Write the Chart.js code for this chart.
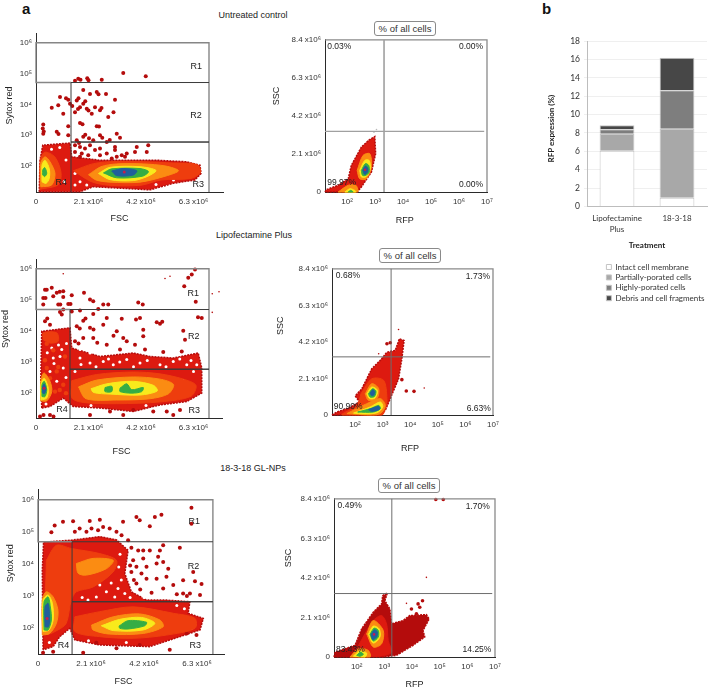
<!DOCTYPE html>
<html><head><meta charset="utf-8">
<style>
html,body{margin:0;padding:0;background:#fff;width:709px;height:689px;overflow:hidden;font-family:"Liberation Sans",sans-serif;color:#222}
canvas{position:absolute}
.t{position:absolute;white-space:nowrap;transform:translate(-50%,-50%);font-size:9px;line-height:1}
.h{position:absolute;font-weight:bold;font-size:15px;line-height:1;color:#111}
.box{position:absolute;box-sizing:border-box;width:62px;height:15px;border:1px solid #8a8a8a;border-radius:3px;background:#fff;font-size:9.5px;line-height:13px;text-align:center;color:#333}
</style>
<script src="https://cdn.jsdelivr.net/npm/chart.js@4"></script>
</head><body>
<div class="h" style="left:22px;top:1px">a</div>
<div class="h" style="left:542px;top:1px">b</div>
<div class="t" style="left:253px;top:15px">Untreated control</div>
<div class="t" style="left:254px;top:235px">Lipofectamine Plus</div>
<div class="t" style="left:253px;top:468px">18-3-18 GL-NPs</div>
<div class="box" style="left:374px;top:21px">% of all cells</div>
<div class="box" style="left:379px;top:248px">% of all cells</div>
<div class="box" style="left:378px;top:478px">% of all cells</div>
<script>
// ---------- tick values and labels ----------
const fscTicks=[0,2.1,4.2,6.3];
const fscTickLabels=['0','2.1 x10⁶','4.2 x10⁶','6.3 x10⁶'];
const sytoxTicks=[2,3,4,5,6];
const sytoxTickLabels=['10²','10³','10⁴','10⁵','10⁶'];
const rfpTicks=[2,3,4,5,6,7];
const rfpTickLabels=['10²','10³','10⁴','10⁵','10⁶','10⁷'];
const sscTicks=[0,2.1,4.2,6.3,8.4];
const sscTickLabels=['0','2.1 x10⁶','4.2 x10⁶','6.3 x10⁶','8.4 x10⁶'];

// ---------- panel b ----------
const treatments=[['Lipofectamine','Plus'],'18-3-18'];
const intact=[6.05,0.95];
const partial=[1.85,7.5];
const highly=[0.5,4.2];
const debris=[0.45,3.55];

// ---------- untreated: FSC / Sytox red (FSC in 1e6, Sytox as log10) ----------
const a1Red=[[.13,1.17],[.16,2.19],[.27,2.68],[1.36,2.75],[1.43,2.3],[2.56,2.19],[3.89,2.19],[4.83,2.19],[6.03,2.14],[6.56,2.03],[6.6,1.76],[6.36,1.55],[5.49,1.44],[4.56,1.23],[2.29,1.33],[1.76,1.17],[.13,1.17]];
const a1Gaps=[[1.56,1.76],[1.76,1.49],[2.03,1.39],[1.56,1.39],[1.89,1.72],[1.13,1.5],[.95,2.6],[.62,2.55],[1.2,2.2],[4.8,1.4],[5.5,1.55]];
const a1Bright=[[1.5,1.85],[2.3,2.08],[3.2,2.15],[4.3,2.14],[5.5,2.1],[6.45,2.05],[6.58,1.8],[6.2,1.6],[5,1.55],[4.2,1.38],[2.9,1.38],[2.2,1.5],[1.5,1.85]];
const a1BrightL=[[.17,1.25],[.17,2.2],[.36,2.45],[.75,2.3],[1,1.8],[.9,1.4],[.17,1.25]];
const a1OrangeL=[[.19,1.33],[.19,2.09],[.36,2.3],[.56,2.14],[.76,1.76],[.63,1.39],[.19,1.33]];
const a1YellowL=[[.24,1.49],[.24,2.03],[.36,2.19],[.53,1.92],[.53,1.6],[.4,1.44],[.24,1.49]];
const a1GreenL=[[.27,1.71],[.27,1.87],[.35,1.95],[.43,1.77],[.35,1.66],[.27,1.71]];
const a1Orange=[[2.1,1.72],[2.6,1.98],[3.23,2.07],[4.29,2.07],[5.2,2],[5.7,1.85],[5.2,1.68],[4.16,1.48],[2.96,1.48],[2.4,1.55],[2.1,1.72]];
const a1Yellow=[[2.5,1.76],[2.96,1.96],[4.16,1.98],[4.8,1.86],[4.5,1.68],[3.89,1.53],[2.96,1.56],[2.5,1.76]];
const a1Green=[[2.7,1.78],[3.03,1.91],[4.16,1.92],[4.5,1.82],[4.25,1.67],[3.23,1.62],[2.7,1.78]];
const a1Blue=[[3.03,1.84],[3.49,1.92],[4.03,1.85],[3.89,1.71],[3.23,1.69],[3.03,1.84]];
const a1Peak=[[3.53,1.81]];
const a1Specks=[[1.69,4.83],[1.78,4.8],[2.05,4.85],[2.1,4.78],[1.56,4.77],[3.49,5.02],[4.39,4.91],[2.63,4.8],[1.89,4.47],[2.16,4.34],[2.43,4.4],[2.5,4.33],[2.8,4.34],[1.29,4.15],[1.2,4.2],[.96,4.24],[1.36,4.02],[1.63,4.13],[1.7,4.2],[1.76,3.91],[1.68,3.85],[1.56,3.75],[1.89,4.02],[1.97,4.1],[2.03,3.86],[2.1,3.8],[.63,3.89],[.89,3.97],[1.09,3.7],[1.45,3.95],[2.36,3.91],[2.56,3.81],[2.62,3.88],[2.23,3.7],[3.16,4.15],[3.1,3.75],[2.89,3.59],[.29,3.35],[.27,3.22],[.31,3.12],[1.76,3.4],[1.86,3.36],[2.43,3.29],[2.52,3.28],[1.29,3.29],[.83,3.11],[.9,3.04],[.29,3.05],[1.29,3],[1.89,2.95],[1.97,3.02],[2.56,3],[2.65,2.92],[2.29,2.84],[2.12,2.9],[1.63,2.84],[1.72,2.75],[3.23,3.05],[3.36,2.92],[2.83,2.78],[2.95,2.85],[4.49,2.68],[3.96,2.46],[3.63,2.41],[4.43,2.46],[4.03,2.62],[3.16,2.62],[1.56,2.68],[1.76,2.62],[1.96,2.57],[1.56,2.46],[1.83,2.41],[2.16,2.68],[2.36,2.52],[2.56,2.57],[2.83,2.41],[3.16,2.52],[3.23,2.3],[3.43,2.35],[3.56,2.3],[1.76,2.3],[2.09,2.35],[2.56,2.35],[3.03,2.25]];
const a1Notes=[['R1',6.41,5.23],['R2',6.4,3.63],['R3',6.49,1.41],['R4',1.01,1.46]];

// ---------- lipofectamine: FSC / Sytox red ----------
const a2Red=[[.23,1.52],[.19,2.43],[.23,3.99],[1.36,4.1],[1.43,3.45],[2.56,3.18],[3.89,3.29],[4.56,3.18],[5.49,3.13],[6.49,3.29],[6.63,2.81],[6.63,2],[6.03,1.73],[4.96,1.62],[3.89,1.41],[2.56,1.52],[1.49,1.57],[1.09,1.84],[.56,1.57],[.23,1.52]];
const a2Gaps=[[.69,3.13],[1.09,2.81],[.96,3.18],[.56,2.7],[1.76,3.13],[2.16,2.97],[2.69,3.02],[3.09,2.91],[1.56,2.7],[4.16,2.97],[4.96,2.91],[5.49,3.02],[6.03,2.91],[.63,3.45],[1.03,3.4],[.83,2.38],[6.43,2.91],[3.63,3.08],[1.76,3.4],[2.16,3.29],[.9,3.55],[1.22,3.6],[.45,3.3],[.72,2.95],[1.2,2.5],[1.8,2.92],[2.4,2.85],[2.9,3.1],[3.35,3],[3.9,2.85],[4.45,3.05],[5.2,2.85],[5.75,3.1],[6.2,3.05],[6.3,2.7],[5.9,2.4],[6.25,2.15],[1.95,3.5],[.4,1.65],[2.2,1.6],[4.4,1.6]];
const a2Flecks=[[.43,3.59],[.69,3.38],[.36,3.06],[.89,2.84],[.56,2.48],[1.09,2.27],[.83,2.7],[1.16,3.18],[.43,2.81],[.76,2.05],[.95,2.1],[1.2,2.0]];
const a2Bright=[[1.43,2.4],[2.43,2.6],[3.89,2.68],[4.96,2.62],[5.9,2.45],[6.4,2.25],[6.2,1.9],[5,1.72],[3.23,1.66],[1.89,1.7],[1.43,1.85],[1.43,2.4]];
const a2Orange=[[1.7,2.2],[2.43,2.42],[3.89,2.52],[4.96,2.45],[5.5,2.28],[5.3,1.98],[4.56,1.82],[3.23,1.78],[2,1.82],[1.7,2.2]];
const a2OrangeL=[[.19,1.75],[.19,2.38],[.32,2.65],[.56,2.38],[.63,2.05],[.43,1.75],[.19,1.75]];
const a2OrangeU=[[.29,3.72],[.29,3.94],[.83,3.94],[.89,3.67],[.56,3.61],[.29,3.72]];
const a2Yellow=[[2.2,2.14],[2.83,2.3],[3.89,2.38],[4.7,2.25],[4.85,2.07],[4.16,1.94],[2.96,1.97],[2.3,2.02],[2.2,2.14]];
const a2YellowL=[[.2,1.78],[.2,2.29],[.33,2.48],[.49,2.16],[.43,1.84],[.2,1.78]];
const a2Green1=[[2.76,2.18],[3.03,2.22],[3.03,2.05],[2.76,2.05],[2.76,2.18]];
const a2Green2=[[3.36,2.16],[3.63,2.3],[3.83,2.11],[4.29,2.18],[4.23,2.05],[3.83,2],[3.36,2.05],[3.36,2.16]];
const a2GreenL=[[.24,1.89],[.24,2.27],[.33,2.38],[.43,2.11],[.36,1.89],[.24,1.89]];
const a2BlueL=[[.27,2],[.27,2.22],[.33,2.29],[.4,2.11],[.33,1.98],[.27,2]];
const a2Peak=[[.32,2.16]];
const a2Specks=[[.63,5.39],[.36,5.33],[.43,5.33],[.83,5.23],[1.09,5.28],[.95,5.26],[.29,5.06],[.38,5.06],[.69,5.12],[1.09,5.09],[1.43,5.15],[1.92,5.23],[.29,4.85],[.89,4.85],[.97,4.85],[1.29,4.87],[1.38,4.87],[2.16,5.01],[2.69,4.85],[2.29,4.96],[2.89,4.85],[4.09,4.92],[4.27,4.85],[6.39,4.94],[6.09,5.71],[5.93,5.44],[6.23,5.82],[6.36,5.98],[.96,4.61],[1.09,4.69],[1.03,4.53],[1.76,4.66],[1.43,4.63],[1.89,4.33],[1.98,4.4],[2.49,4.71],[2.29,4.55],[2.83,4.42],[3.43,4.39],[4,4.37],[4.16,4.42],[4.83,4.28],[4.96,4.23],[5.05,4.3],[6.48,4.44],[6.63,4.42],[.36,4.31],[.45,4.4],[.56,4.2],[1.63,4.15],[1.75,4.08],[2.16,4.1],[2.3,4.05],[3.23,3.99],[3.1,3.85],[2.69,4.2],[4.29,4.04],[5.96,3.72],[5.89,4.01],[4.29,3.83],[3.63,3.67],[3.49,3.77],[2.83,3.56],[2.29,3.77],[2.45,3.62],[1.89,3.77],[1.56,3.67],[1.7,3.6],[3.36,3.4],[3.96,3.56],[4.36,3.4],[5.09,3.32],[5.83,3.34],[.16,1.25],[.3,1.3],[.56,1.3],[.7,1.25],[3.89,1.46],[4.69,1.41],[5.23,1.41],[5.49,1.3],[2.16,1.3],[2.96,1.41],[3.49,1.3],[5.76,1.46]];
const a2Faint=[[1.09,5.84],[5.36,5.76],[5.16,5.69],[7.05,5.2],[7.32,5.26],[7.05,4.6]];
const a2Notes=[['R1',6.29,5.19],['R2',6.31,3.81],['R3',6.33,1.44],['R4',1.04,1.48]];

// ---------- 18-3-18: FSC / Sytox red ----------
const a3Red=[[.2,1.32],[.17,3.8],[.22,4.68],[1.32,4.74],[2.45,4.85],[3.11,4.75],[3.57,4.42],[3.44,3.7],[3.7,3.13],[4.3,2.87],[5.09,2.87],[6.02,2.82],[5.95,2.46],[6.55,2.3],[6.42,1.94],[5.62,1.73],[4.43,1.42],[2.45,1.47],[1.46,1.63],[1.26,1.99],[.86,1.73],[.6,1.42],[.2,1.32]];
const a3Gaps=[[2.31,2.97],[2.71,3.13],[3.17,3.23],[3.04,2.97],[2.45,3.34],[3.44,3.08],[1.98,2.87],[3.3,3.5],[3.25,4.3],[3.2,3.9],[1.75,2.95],[2.9,3.4],[3.65,2.95],[4.2,2.95],[5.5,2.7],[5.8,2.6],[6.1,2.0],[3.5,1.55],[2,1.6],[.45,1.55],[1.2,1.7]];
const a3BrightU=[[.33,4.11],[.73,4.58],[1.32,4.48],[2.45,4.32],[3.11,4.11],[2.98,3.75],[2.18,3.28],[1.52,3.13],[1.32,2.87],[1.12,2.15],[.79,1.94],[.33,1.83],[.33,4.11]];
const a3BrightB=[[1.46,2.35],[2.45,2.51],[3.77,2.66],[5.36,2.46],[6.22,2.3],[6.22,1.99],[5.09,1.78],[3.77,1.68],[2.45,1.73],[1.46,1.89],[1.46,2.35]];
const a3OrangeL=[[.17,1.78],[.17,2.87],[.33,3.13],[.6,2.97],[.79,2.56],[.73,2.15],[.46,1.83],[.17,1.78]];
const a3OrangeU=[[1.52,4.01],[2.18,4.17],[2.98,4.11],[2.71,3.85],[1.92,3.65],[1.59,3.71],[1.52,4.01]];
const a3Orange=[[2.12,2.09],[2.98,2.35],[4.03,2.44],[4.83,2.25],[4.96,2.04],[4.17,1.83],[2.84,1.81],[2.18,1.94],[2.12,2.09]];
const a3Yellow=[[2.51,2.07],[3.24,2.27],[4.1,2.33],[4.63,2.15],[4.17,1.94],[2.98,1.92],[2.51,2.07]];
const a3Green=[[3.21,2.06],[3.57,2.23],[4.3,2.18],[4.23,2.07],[3.57,1.97],[3.24,1.99],[3.21,2.06]];
const a3YellowL=[[.2,1.89],[.2,2.87],[.4,3.03],[.57,2.77],[.6,2.25],[.44,1.94],[.2,1.89]];
const a3GreenL=[[.24,1.94],[.24,2.82],[.4,2.97],[.49,2.66],[.53,2.25],[.4,1.94],[.24,1.94]];
const a3BlueL=[[.28,2.04],[.28,2.66],[.4,2.77],[.46,2.35],[.42,2.04],[.28,2.04]];
const a3Peak=[[.36,2.3]];
const a3Specks=[[6.08,5.75],[.53,4.99],[.66,5.2],[.99,5.31],[1.39,5.33],[2.05,5.34],[2.45,5.38],[3.37,5.31],[4.03,5.36],[3.9,5.46],[4.63,5.46],[4.89,5.53],[4.43,5.17],[6.08,5.25],[3.97,4.42],[4.17,4.42],[4.43,4.42],[4.96,4.58],[5.62,4.5],[4.83,4.42],[4.76,4.22],[4.17,4.17],[3.9,3.91],[4.3,3.91],[4.7,4.01],[5.16,3.85],[4.96,4.06],[3.77,4.11],[3.7,3.75],[4.1,3.7],[4.3,3.54],[4.7,3.54],[5.09,3.6],[3.9,3.39],[6.15,3.75],[6.48,3.37],[6.22,3.46],[5.75,3.49],[5.36,3.34],[4.96,3.23],[6.02,3.08],[6.42,3.03],[5.75,3.08],[.2,1.23],[.6,1.26],[1.79,1.23],[3.11,1.37],[4.03,1.47],[5.22,1.32],[2.31,1.54],[5.89,1.83],[6.28,1.78],[1.46,5],[1.65,5.1],[1.92,5],[2.12,5.1],[2.38,5.05],[2.58,5.15],[2.84,5.1],[3.11,5],[3.31,4.89],[3.57,4.74],[3.7,4.5],[3.65,3.95],[3.8,3.5],[4.05,3.2],[4.5,3.1],[5.5,3.05],[5.9,3.0]];
const a3Notes=[['R1',6.19,5.32],['R2',6.16,3.91],['R3',6.23,1.46],['R4',1.01,1.44]];

// ---------- untreated: RFP / SSC (RFP as log10, SSC in 1e6) ----------
const s1Red=[[1.21,0],[1.26,.13],[1.68,.37],[2.04,.73],[2.15,1.47],[2.51,2.48],[2.79,2.88],[2.99,3.06],[3.02,2.11],[2.87,1.1],[2.51,.28],[2.36,0],[1.21,0]];
const s1Orange=[[2.36,1.19],[2.57,2.02],[2.81,2.11],[2.87,1.38],[2.69,.73],[2.45,.73],[2.36,1.19]];
const s1Yellow=[[2.45,1.19],[2.63,1.74],[2.79,1.74],[2.83,1.28],[2.69,.86],[2.51,.83],[2.45,1.19]];
const s1Green=[[2.51,1.19],[2.65,1.56],[2.77,1.47],[2.79,1.1],[2.67,.92],[2.55,.92],[2.51,1.19]];
const s1Blue=[[2.56,1.19],[2.65,1.43],[2.74,1.32],[2.73,1.1],[2.63,.97],[2.56,1.19]];
const s1Peak=[[2.64,1.23]];
const s1OrangeL=[[1.68,0],[2.04,.37],[2.31,.37],[2.39,.09],[2.36,0],[1.68,0]];
const s1YellowL=[[1.92,0],[2.1,.18],[2.27,.09],[2.31,0],[1.92,0]];
const s1GreenL=[[2.04,0],[2.13,.09],[2.21,0],[2.04,0]];
const s1Faint=[[3.05,3.45],[2.96,3.3]];
const s1Notes=[['0.03%',1.29,8.04,'left'],['0.00%',6.86,8.04,'right'],['99.97%',1.29,.51,'left'],['0.00%',6.86,.4,'right']];

// ---------- lipofectamine: RFP / SSC ----------
const s2Red=[[1.17,0],[1.35,.17],[1.77,.4],[2.17,.75],[2.01,1.09],[2.25,1.51],[2.61,2.66],[2.92,3.14],[3.16,3.61],[3.46,3.71],[3.61,4.38],[3.78,4.28],[3.7,3.23],[3.58,2.08],[3.28,.94],[3.1,.27],[2.92,0],[1.17,0]];
const s2Bright=[[2.22,1.22],[2.61,2.08],[3.04,1.99],[3.16,.94],[3.1,.36],[2.98,0],[1.53,0],[2.07,.55],[2.22,1.22]];
const s2OrangeT=[[2.37,1.22],[2.61,1.8],[2.86,1.51],[2.8,.94],[2.49,.84],[2.37,1.22]];
const s2OrangeB=[[1.71,.08],[2.43,.65],[2.92,.94],[3.1,.55],[2.92,.08],[2.55,0],[1.71,.08]];
const s2YellowT=[[2.43,1.22],[2.61,1.61],[2.82,1.41],[2.73,.98],[2.53,.94],[2.43,1.22]];
const s2GreenT=[[2.49,1.22],[2.64,1.51],[2.76,1.38],[2.71,1.07],[2.55,1.03],[2.49,1.22]];
const s2BlueT=[[2.55,1.26],[2.65,1.45],[2.72,1.32],[2.67,1.13],[2.59,1.13],[2.55,1.26]];
const s2YellowB=[[1.95,.11],[2.55,.46],[2.92,.75],[3.01,.46],[2.8,.13],[2.31,.06],[1.95,.11]];
const s2GreenB=[[2.1,.17],[2.55,.36],[2.86,.55],[2.92,.36],[2.67,.17],[2.1,.17]];
const s2BlueB=[[2.49,.31],[2.86,.5],[2.89,.33],[2.61,.21],[2.49,.31]];
const s2Specks=[[3.16,4.09],[3.28,4.15],[3.7,2.03],[3.86,1.38],[4.14,1.36]];
const s2Faint=[[3.58,4.91],[4.51,1.55],[2.86,3.52]];
const s2Notes=[['0.68%',1.31,8.01,'left'],['1.73%',6.89,7.95,'right'],['90.90%',1.23,.46,'left'],['6.63%',6.92,.38,'right']];

// ---------- 18-3-18: RFP / SSC ----------
const s3Red=[[1.18,0],[1.22,.26],[1.94,.62],[2.18,1.5],[2.6,2.38],[2.9,2.82],[2.94,3.26],[3.11,3.4],[3.02,2.99],[3.2,2.55],[3.26,1.76],[3.68,1.94],[3.92,2.2],[4.52,2.25],[4.62,2.02],[4.4,1.41],[4.46,1.06],[4.04,.62],[3.44,.09],[2.96,0],[1.18,0]];
const s3Bright=[[1.94,.26],[2.3,1.23],[2.6,1.94],[2.9,2.2],[3.08,1.76],[3.14,.88],[3.26,.26],[2.9,.05],[2.3,.05],[1.94,.26]];
const s3Orange=[[2.36,1.23],[2.6,1.94],[2.96,1.41],[2.9,.7],[2.6,.53],[2.36,1.23]];
const s3Yellow=[[2.42,1.2],[2.6,1.64],[2.81,1.5],[2.84,1.06],[2.6,.74],[2.42,1.2]];
const s3Green=[[2.48,1.2],[2.63,1.53],[2.78,1.41],[2.78,1.06],[2.6,.85],[2.48,1.2]];
const s3Blue=[[2.52,1.2],[2.64,1.44],[2.75,1.32],[2.72,1.06],[2.58,.93],[2.52,1.2]];
const s3Peak=[[2.63,1.2]];
const s3OrangeL=[[1.76,0],[2.06,.44],[2.42,.35],[2.48,0],[1.76,0]];
const s3YellowL=[[1.88,.04],[2.1,.32],[2.36,.21],[2.3,0],[1.88,.04]];
const s3GreenL=[[2,.09],[2.14,.26],[2.24,.14],[2.12,.04],[2,.09]];
const s3Specks=[[4.22,2.82],[4.38,2.99],[3.98,2.55],[4.28,2.64],[4.16,2.29],[4.86,8.36],[5.13,8.36]];
const s3Faint=[[4.52,4.23],[3.8,2.85]];
const s3Notes=[['0.49%',1.31,8.01,'left'],['1.70%',6.81,7.98,'right'],['83.43%',1.25,.39,'left'],['14.25%',6.87,.39,'right']];

// ---------- gates (FSC 1e6 / log10 Sytox) and quadrants ----------
const a1Gate={end:6.92,r4:1.4,r1:4.71,r2:2.78,base:1.16,top:6};
const a2Gate={end:6.92,r4:1.36,r1:4.69,r2:2.77,base:1.2,top:6};
const a3Gate={end:6.93,r4:1.35,r1:4.69,r2:2.82,base:1.19,top:6};
const s1Quad={v:3.32,h:3.35};
const s2Quad={v:3.31,h:3.34};
const s3Quad={v:3.27,h:3.37};

// ---------- drawing ----------
const C={deep:'#b40c0c',red:'#dd1a10',bright:'#ee3d0e',orange:'#fb8c12',yellow:'#f8ea1c',green:'#35ad45',blue:'#1f5f9c',peak:'#c21e4e'};
Chart.defaults.font.family='"Liberation Sans", sans-serif';
Chart.defaults.animation=false;
const xy=p=>p.map(([x,y])=>({x,y}));
const notePlugin={id:'notes',afterDatasetsDraw(c){
  const n=c.options.plugins.notes; if(!n||!n.items)return;
  const g=c.ctx; g.save(); g.font=n.size+'px "Liberation Sans"'; g.fillStyle='#222'; g.textBaseline='middle';
  n.items.forEach(([t,x,y,al])=>{g.textAlign=al||'center'; g.fillText(t,c.scales.x.getPixelForValue(x),c.scales.y.getPixelForValue(y));});
  g.restore();
}};
function blob(p,col,tension){return {data:xy(p),showLine:true,fill:'shape',backgroundColor:col,borderColor:col,borderWidth:1,pointRadius:0,tension:tension===undefined?0.3:tension};}
function edge(p,col){return {data:xy(p),showLine:true,fill:'shape',backgroundColor:col||C.red,borderColor:C.deep,borderWidth:1.5,borderDash:[2,1],pointRadius:0,tension:0};}
function dots(p,col,r){return {data:xy(p),showLine:false,backgroundColor:col,borderColor:col,borderWidth:0,pointRadius:r,pointHoverRadius:r};}
function path(p,col,w){return {data:xy(p),showLine:true,fill:false,borderColor:col,borderWidth:w,pointRadius:0,tension:0};}
function gateLines(g){return [
  path([[g.r4,g.r1],[0,g.r1],[0,g.top],[g.end,g.top],[g.end,g.base]],'#868686',1.4),
  path([[g.r4,g.base],[g.r4,g.r2],[g.end,g.r2],[g.r4,g.r2],[g.r4,g.r1],[g.end,g.r1]],'#3a3a3a',1)];}
function quadLines(q,xmin,thick){return [
  path([[xmin,8.4],[7,8.4],[7,0]],'#8a8a8a',1.3),
  path([[q.v,0],[q.v,8.4]],thick?'#a0a0a0':'#6e6e6e',thick?1.6:1),
  path([[xmin,q.h],[6.9,q.h]],thick?'#a0a0a0':'#6e6e6e',thick?1.2:1)];}
function panel(o){
  const left=Math.floor(o.yTitleX-5.4), top=Math.floor(o.T-8);
  const right=Math.ceil(o.R+16), bottom=Math.ceil(o.xTitleY+6);
  const cv=document.createElement('canvas');
  cv.style.left=left+'px';cv.style.top=top+'px';
  cv.width=right-left;cv.height=bottom-top;cv.style.width=(right-left)+'px';cv.style.height=(bottom-top)+'px';
  document.body.appendChild(cv);
  const n=o.layers.length;
  o.layers.forEach((d,i)=>{d.order=n-i;d.clip=false;});
  new Chart(cv,{type:'scatter',data:{datasets:o.layers},plugins:[notePlugin],options:{
    responsive:false,devicePixelRatio:1,
    layout:{padding:{top:o.T-top,right:right-o.R,left:0,bottom:0}},
    plugins:{legend:{display:false},tooltip:{enabled:false},notes:{items:o.notes,size:o.noteSize}},
    scales:{
      x:{type:'linear',min:o.xMin,max:o.xMax,
        afterBuildTicks:s=>{s.ticks=o.xTicks.map(v=>({value:v}));},
        afterFit:s=>{s.height=bottom-o.B;},
        grid:{display:false,drawTicks:false},border:{color:'#2a2a2a',width:1},
        ticks:{autoSkip:false,maxRotation:0,minRotation:0,padding:5,color:'#333',font:{size:8},callback:(v,i)=>o.xLabels[i]},
        title:{display:true,text:o.xTitle,color:'#222',padding:0,font:{size:9}}},
      y:{type:'linear',min:o.yMin,max:o.yMax,
        afterBuildTicks:s=>{s.ticks=o.yTicks.map(v=>({value:v}));},
        afterFit:s=>{s.width=o.L-left;},
        grid:{display:false,drawTicks:false},border:{color:'#2a2a2a',width:1},
        ticks:{autoSkip:false,padding:4,color:'#333',font:{size:8},callback:(v,i)=>o.yLabels[i]},
        title:{display:true,text:o.yTitle,color:'#222',padding:0,font:{size:9}}}
    }}});
}
const sp=n=>' '.repeat(n);
panel({L:36,T:33,R:223,B:192,yTitleX:10,xTitleY:218,xMin:0,xMax:7.48,yMin:1.16,yMax:6.29,
  xTicks:fscTicks,xLabels:fscTickLabels,yTicks:sytoxTicks,yLabels:sytoxTickLabels,
  xTitle:'FSC'+sp(8),yTitle:sp(6)+'Sytox red',notes:a1Notes,noteSize:9,
  layers:[edge(a1Red),dots(a1Gaps,'#ffffff',1.5),dots(a1Specks,C.deep,2),blob(a1BrightL,C.bright),blob(a1Bright,C.bright),blob(a1OrangeL,C.orange),blob(a1Orange,C.orange),blob(a1YellowL,C.yellow),blob(a1Yellow,C.yellow),blob(a1GreenL,C.green),blob(a1Green,C.green),blob(a1Blue,C.blue),dots(a1Peak,C.peak,1.5),...gateLines(a1Gate)]});
panel({L:36,T:259,R:222,B:418,yTitleX:5.5,xTitleY:451,xMin:0,xMax:7.44,yMin:1.2,yMax:6.29,
  xTicks:fscTicks,xLabels:fscTickLabels,yTicks:sytoxTicks,yLabels:sytoxTickLabels,
  xTitle:'FSC'+sp(6),yTitle:sp(8)+'Sytox red',notes:a2Notes,noteSize:9,
  layers:[edge(a2Red),dots(a2Gaps,'#ffffff',1.5),dots(a2Flecks,C.bright,2.2),dots(a2Specks,C.deep,2),dots(a2Faint,C.deep,.8),blob(a2Bright,C.bright),blob(a2OrangeL,C.orange),blob(a2OrangeU,C.bright),blob(a2Orange,C.orange),blob(a2YellowL,C.yellow),blob(a2Yellow,C.yellow),blob(a2GreenL,C.green),blob(a2Green1,C.green),blob(a2Green2,C.green),blob(a2BlueL,C.blue),dots(a2Peak,C.peak,1.5),...gateLines(a2Gate)]});
panel({L:38,T:489,R:224,B:654,yTitleX:10.5,xTitleY:681,xMin:0,xMax:7.37,yMin:1.19,yMax:6.31,
  xTicks:fscTicks,xLabels:fscTickLabels,yTicks:sytoxTicks,yLabels:sytoxTickLabels,
  xTitle:'FSC'+sp(6),yTitle:sp(7)+'Sytox red',notes:a3Notes,noteSize:9,
  layers:[edge(a3Red),dots(a3Gaps,'#ffffff',1.5),dots(a3Specks,C.deep,2),blob(a3BrightU,C.bright),blob(a3BrightB,C.bright),blob(a3OrangeL,C.orange),blob(a3OrangeU,C.orange),blob(a3Orange,C.orange),blob(a3YellowL,C.yellow),blob(a3Yellow,C.yellow),blob(a3GreenL,C.green),blob(a3Green,C.green),blob(a3BlueL,C.blue),dots(a3Peak,C.peak,1.5),...gateLines(a3Gate)]});
panel({L:325,T:39,R:487,B:192,yTitleX:276.7,xTitleY:220,xMin:1.21,xMax:7,yMin:0,yMax:8.4,
  xTicks:rfpTicks,xLabels:rfpTickLabels,yTicks:sscTicks,yLabels:sscTickLabels,
  xTitle:'RFP'+sp(1),yTitle:sp(16)+'SSC',notes:s1Notes,noteSize:8.5,
  layers:[edge(s1Red),blob(s1OrangeL,C.orange),blob(s1Orange,C.orange),blob(s1YellowL,C.yellow),blob(s1Yellow,C.yellow),blob(s1GreenL,C.green),blob(s1Green,C.green),blob(s1Blue,C.blue),dots(s1Peak,C.peak,1.3),dots(s1Faint,'#bbbbbb',.8),...quadLines(s1Quad,1.21,true)]});
panel({L:332,T:268,R:493,B:415,yTitleX:281,xTitleY:447.7,xMin:1.17,xMax:7,yMin:0,yMax:8.4,
  xTicks:rfpTicks,xLabels:rfpTickLabels,yTicks:sscTicks,yLabels:sscTickLabels,
  xTitle:'RFP'+sp(2),yTitle:sp(13)+'SSC',notes:s2Notes,noteSize:8.5,
  layers:[edge(s2Red),dots(s2Specks,C.deep,1.8),dots(s2Faint,C.deep,.8),blob(s2Bright,C.bright),blob(s2OrangeT,C.orange),blob(s2OrangeB,C.orange),blob(s2YellowT,C.yellow),blob(s2YellowB,C.yellow),blob(s2GreenT,C.green),blob(s2GreenB,C.green),blob(s2BlueT,C.blue),blob(s2BlueB,C.blue),...quadLines(s2Quad,1.17,false)]});
panel({L:334,T:498,R:495,B:657,yTitleX:288.7,xTitleY:684,xMin:1.18,xMax:7,yMin:0,yMax:8.4,
  xTicks:rfpTicks,xLabels:rfpTickLabels,yTicks:sscTicks,yLabels:sscTickLabels,
  xTitle:'RFP',yTitle:sp(16)+'SSC',notes:s3Notes,noteSize:8.5,
  layers:[edge(s3Red,C.deep),dots(s3Specks,C.deep,1.8),dots(s3Faint,C.deep,.8),blob(s3Bright,C.red),blob(s3OrangeL,C.orange),blob(s3Orange,C.orange),blob(s3YellowL,C.yellow),blob(s3Yellow,C.yellow),blob(s3GreenL,C.green),blob(s3Green,C.green),blob(s3Blue,C.blue),dots(s3Peak,C.peak,1.3),...quadLines(s3Quad,1.18,false)]});

// panel b
(function(){
  const cv=document.createElement('canvas');
  const left=547,top=32,w=162,h=274;
  cv.style.left=left+'px';cv.style.top=top+'px';cv.width=w;cv.height=h;cv.style.width=w+'px';cv.style.height=h+'px';
  document.body.appendChild(cv);
  const font='Lato';
  const mv={id:'legendSpot',afterLayout(c){const l=c.legend;l.left=57;l.right=162;l.top=228.6;l.bottom=273;}};
  const ds=(label,data,col)=>({label,data,backgroundColor:col,borderColor:'#c4c4c4',borderWidth:1,barPercentage:.58,categoryPercentage:1});
  new Chart(cv,{type:'bar',plugins:[mv],data:{labels:treatments,datasets:[
    ds('Intact cell membrane',intact,'#ffffff'),ds('Partially-porated cells',partial,'#a8a8a8'),
    ds('Highly-porated cells',highly,'#7e7e7e'),ds('Debris and cell fragments',debris,'#474747')]},
  options:{responsive:false,devicePixelRatio:1,layout:{padding:{top:8,right:2,left:0,bottom:0}},
    plugins:{tooltip:{enabled:false},legend:{position:'bottom',fullSize:false,align:'start',
      labels:{boxWidth:5,boxHeight:5,padding:2.4,color:'#333',font:{family:font,size:8}}}},
    scales:{
      x:{stacked:true,afterFit:s=>{s.height=48;},grid:{display:false,drawTicks:false},border:{color:'#bdbdbd'},
        ticks:{color:'#333',padding:7,maxRotation:0,autoSkip:false,font:{family:font,size:8,lineHeight:1.35}},
        title:{display:true,text:'Treatment',color:'#222',padding:{top:0,bottom:4},font:{family:font,size:8,weight:'bold'}}},
      y:{stacked:true,min:0,max:18,afterFit:s=>{s.width=40;},
        grid:{color:'#efefef',drawTicks:true,tickLength:3},border:{color:'#bdbdbd'},
        ticks:{stepSize:2,color:'#333',padding:4,font:{family:font,size:8.5}},
        title:{display:true,text:'RFP expression (%)'+sp(5),color:'#222',padding:0,font:{family:font,size:8,weight:'bold'}}}
    }}});
})();
</script>
</body></html>
